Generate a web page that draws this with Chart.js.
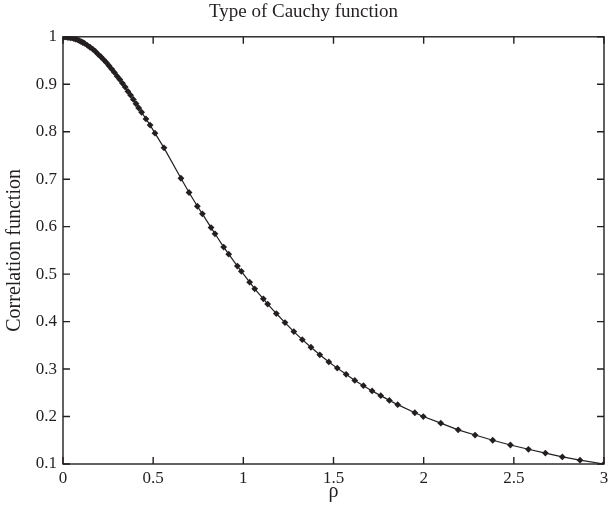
<!DOCTYPE html>
<html>
<head>
<meta charset="utf-8">
<script src="https://cdn.jsdelivr.net/npm/chart.js@4/dist/chart.umd.min.js"></script>
<style>
  html, body { margin: 0; padding: 0; background: #fff; }
  #wrap { width: 609px; height: 511px; }
</style>
</head>
<body>
<div id="wrap"><canvas id="c" width="609" height="511"></canvas></div>
<script>
// Sampled distance values (rho) and the Cauchy-type correlation at each one
const rho = [
  0, 0.005, 0.01, 0.015, 0.02, 0.025, 0.03, 0.04, 0.05, 0.06, 0.07, 0.08, 0.09, 0.10,
  0.11, 0.12, 0.135, 0.15, 0.165, 0.18, 0.195, 0.21, 0.225, 0.24, 0.255, 0.27, 0.285,
  0.30, 0.315, 0.33, 0.345, 0.36, 0.375, 0.39, 0.405, 0.42, 0.436, 0.46, 0.483, 0.51,
  0.56, 0.654, 0.699, 0.745, 0.773, 0.821, 0.843, 0.891, 0.919, 0.967, 0.989, 1.035,
  1.063, 1.111, 1.135, 1.183, 1.231, 1.28, 1.327, 1.375, 1.424, 1.474, 1.521, 1.57,
  1.618, 1.666, 1.714, 1.762, 1.81, 1.856, 1.951, 1.998, 2.095, 2.191, 2.285, 2.383,
  2.481, 2.581, 2.675, 2.769, 2.867, 3.0
];
const correlation = [
  1.000, 1.000, 1.000, 1.000, 1.000, 0.999, 0.999, 0.998, 0.998, 0.996, 0.995, 0.994, 0.992, 0.990,
  0.988, 0.986, 0.982, 0.978, 0.974, 0.969, 0.963, 0.958, 0.952, 0.946, 0.939, 0.932, 0.925,
  0.917, 0.910, 0.902, 0.894, 0.885, 0.877, 0.868, 0.859, 0.850, 0.841, 0.827, 0.814, 0.797,
  0.766, 0.702, 0.672, 0.643, 0.627, 0.598, 0.585, 0.557, 0.542, 0.517, 0.506, 0.483,
  0.469, 0.448, 0.437, 0.417, 0.398, 0.379, 0.362, 0.346, 0.330, 0.315, 0.302, 0.289,
  0.276, 0.265, 0.254, 0.244, 0.234, 0.225, 0.208, 0.200, 0.186, 0.172, 0.161, 0.150,
  0.140, 0.131, 0.123, 0.115, 0.108, 0.100
];
const xTicks = [0, 0.5, 1, 1.5, 2, 2.5, 3];
const yTicks = [0.1, 0.2, 0.3, 0.4, 0.5, 0.6, 0.7, 0.8, 0.9, 1];

const points = rho.map((r, i) => ({ x: r, y: correlation[i] }));
const SERIF = "'Liberation Serif', 'Times New Roman', serif";
const INK = '#231f20';

// Box frame with inward ticks on all four sides
const frameTicks = {
  id: 'frameTicks',
  afterDraw(chart) {
    const ctx = chart.ctx;
    const a = chart.chartArea;
    const xs = chart.scales.x, ys = chart.scales.y;
    const len = 7;
    ctx.save();
    ctx.strokeStyle = INK;
    ctx.lineWidth = 1.4;
    for (const v of xTicks) {
      const px = xs.getPixelForValue(v);
      ctx.beginPath();
      ctx.moveTo(px, a.bottom); ctx.lineTo(px, a.bottom - len);
      ctx.moveTo(px, a.top); ctx.lineTo(px, a.top + len);
      ctx.stroke();
    }
    for (const v of yTicks) {
      const py = ys.getPixelForValue(v);
      ctx.beginPath();
      ctx.moveTo(a.left, py); ctx.lineTo(a.left + len, py);
      ctx.moveTo(a.right, py); ctx.lineTo(a.right - len, py);
      ctx.stroke();
    }
    ctx.strokeRect(a.left, a.top, a.right - a.left, a.bottom - a.top);
    ctx.restore();
  }
};

new Chart(document.getElementById('c'), {
  type: 'scatter',
  data: {
    datasets: [{
      data: points,
      showLine: true,
      borderColor: INK,
      borderWidth: 1.2,
      backgroundColor: INK,
      pointStyle: 'rectRot',
      pointRadius: 3.4,
      pointBorderWidth: 0,
      pointHoverRadius: 3.4,
      tension: 0
    }]
  },
  options: {
    responsive: false,
    animation: false,
    layout: { padding: { top: 0, right: 5, bottom: 7, left: 3 } },
    plugins: {
      legend: { display: false },
      tooltip: { enabled: false },
      title: {
        display: true,
        text: 'Type of Cauchy function',
        color: INK,
        font: { family: SERIF, size: 19, weight: 'normal' },
        padding: { top: 1, bottom: 13 }
      }
    },
    scales: {
      x: {
        type: 'linear',
        min: 0, max: 3,
        afterBuildTicks: s => { s.ticks = xTicks.map(v => ({ value: v })); },
        afterFit: s => { s.height = 40; s.paddingLeft = 0; s.paddingRight = 0; },
        grid: { display: false, drawTicks: false },
        border: { display: false },
        ticks: {
          color: INK,
          font: { family: SERIF, size: 17 },
          padding: 4,
          maxRotation: 0,
          callback: v => String(v)
        },
        title: {
          display: true,
          text: 'ρ',
          color: INK,
          font: { family: SERIF, size: 20 },
          padding: { top: 0, bottom: 0 }
        }
      },
      y: {
        type: 'linear',
        min: 0.1, max: 1,
        afterBuildTicks: s => { s.ticks = yTicks.map(v => ({ value: v })); },
        afterFit: s => { s.width = 60; s.paddingTop = 0; s.paddingBottom = 0; },
        grid: { display: false, drawTicks: false },
        border: { display: false },
        ticks: {
          color: INK,
          font: { family: SERIF, size: 17 },
          padding: 6,
          callback: v => String(Math.round(v * 10) / 10)
        },
        title: {
          display: true,
          text: 'Correlation function',
          color: INK,
          font: { family: SERIF, size: 20 },
          padding: { top: 0, bottom: 2 }
        }
      }
    }
  },
  plugins: [frameTicks]
});
</script>
</body>
</html>
